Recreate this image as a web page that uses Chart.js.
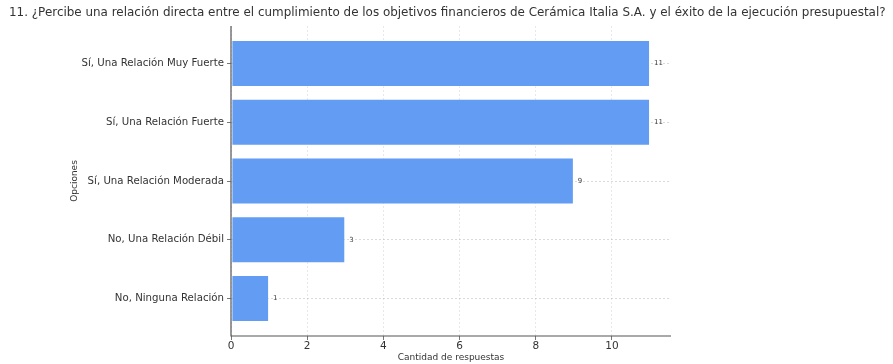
<!DOCTYPE html>
<html>
<head>
<meta charset="utf-8">
<script src="https://cdn.jsdelivr.net/npm/chart.js@4/dist/chart.umd.min.js"></script>
<style>
  html, body { margin: 0; padding: 0; background: #fff; }
  #wrap { width: 893px; height: 364px; }
</style>
</head>
<body>
<div id="wrap"><canvas id="chartRelacion"></canvas></div>
<script>
// Opciones de respuesta (de arriba hacia abajo) y cantidades
const opciones = [
    'Sí, Una Relación Muy Fuerte',
    'Sí, Una Relación Fuerte',
    'Sí, Una Relación Moderada',
    'No, Una Relación Débil',
    'No, Ninguna Relación'
];
const respuestas = [11, 11, 9, 3, 1];
const ticksX = [0, 2, 4, 6, 8, 10];
const titulo = '11. ¿Percibe una relación directa entre el cumplimiento de los objetivos financieros de Cerámica Italia S.A. y el éxito de la ejecución presupuestal?';

const textoGris = '#333333';
const ejeGris = '#555555';

// Título dibujado a mano (ocupa casi todo el ancho del lienzo)
const tituloPlugin = {
    id: 'tituloPlugin',
    afterDraw(chart) {
        const ctx = chart.ctx;
        ctx.save();
        let size = 12.5;
        ctx.font = size + 'px "DejaVu Sans"';
        const ancho = ctx.measureText(titulo).width;
        size = Math.min(size, size * 878 / ancho);
        ctx.font = size + 'px "DejaVu Sans"';
        ctx.fillStyle = textoGris;
        ctx.textAlign = 'left';
        ctx.textBaseline = 'middle';
        ctx.fillText(titulo, 9, 13);
        ctx.restore();
    }
};

// Etiqueta de valor al final de cada barra
const etiquetasValor = {
    id: 'etiquetasValor',
    afterDatasetsDraw(chart) {
        const ctx = chart.ctx;
        const meta = chart.getDatasetMeta(0);
        ctx.save();
        ctx.font = '7px "DejaVu Sans"';
        ctx.fillStyle = '#444';
        ctx.textAlign = 'left';
        ctx.textBaseline = 'middle';
        meta.data.forEach(function (bar, i) {
            ctx.fillText(String(respuestas[i]), bar.x + 4, bar.y);
        });
        ctx.restore();
    }
};

// Ejes izquierdo e inferior (sin marco superior ni derecho)
const ejes = {
    id: 'ejes',
    afterDraw(chart) {
        const a = chart.chartArea;
        const ctx = chart.ctx;
        ctx.save();
        ctx.strokeStyle = ejeGris;
        ctx.lineWidth = 1.2;
        ctx.beginPath();
        ctx.moveTo(a.left, a.top);
        ctx.lineTo(a.left, a.bottom);
        ctx.lineTo(a.right, a.bottom);
        ctx.stroke();
        ctx.restore();
    }
};

const ctx = document.getElementById('chartRelacion').getContext('2d');

new Chart(ctx, {
    type: 'bar',
    data: {
        datasets: [{
            label: 'Cantidad de respuestas',
            data: respuestas.map(function (v, i) { return { x: v, y: i }; }),
            backgroundColor: '#629cf3',
            borderColor: 'rgba(255,255,255,0.3)',
            borderWidth: 1,
            borderSkipped: false,
            barPercentage: 0.8,
            categoryPercentage: 1.0
        }]
    },
    options: {
        indexAxis: 'y',
        responsive: true,
        maintainAspectRatio: false,
        animation: false,
        layout: { padding: { left: 69, right: 222, top: 26, bottom: 1 } },
        plugins: {
            legend: { display: false },
            tooltip: { enabled: false },
            title: { display: false }
        },
        scales: {
            x: {
                type: 'linear',
                min: 0,
                max: 11.55,
                z: 1,
                afterBuildTicks: function (scale) {
                    scale.ticks = ticksX.map(function (v) { return { value: v }; });
                },
                afterFit: function (scale) { scale.height = 27; },
                grid: {
                    color: 'rgba(190,190,190,0.45)',
                    lineWidth: 0.8,
                    tickColor: ejeGris,
                    tickLength: 4,
                    drawTicks: true
                },
                border: { display: false, dash: [2, 2] },
                ticks: {
                    color: textoGris,
                    font: { family: 'DejaVu Sans', size: 10.5 },
                    padding: 0,
                    maxRotation: 0
                },
                title: {
                    display: true,
                    text: 'Cantidad de respuestas',
                    color: textoGris,
                    font: { family: 'DejaVu Sans', size: 9 },
                    padding: { top: 0, bottom: 0 }
                }
            },
            y: {
                type: 'linear',
                min: -0.64,
                max: 4.64,
                reverse: true,
                offset: false,
                z: 1,
                afterBuildTicks: function (scale) {
                    scale.ticks = opciones.map(function (o, i) { return { value: i }; });
                },
                afterFit: function (scale) { scale.width = 231 - 69; },
                grid: {
                    offset: false,
                    color: 'rgba(170,170,170,0.55)',
                    lineWidth: 0.8,
                    tickColor: ejeGris,
                    tickLength: 4
                },
                border: { display: false, dash: [2, 2] },
                ticks: {
                    color: textoGris,
                    font: { family: 'DejaVu Sans', size: 10.2 },
                    padding: 3,
                    callback: function (value) { return opciones[value]; }
                },
                title: {
                    display: true,
                    text: 'Opciones',
                    color: textoGris,
                    font: { family: 'DejaVu Sans', size: 9 },
                    padding: { top: 0, bottom: 0 }
                }
            }
        }
    },
    plugins: [etiquetasValor, ejes, tituloPlugin]
});
</script>
</body>
</html>
